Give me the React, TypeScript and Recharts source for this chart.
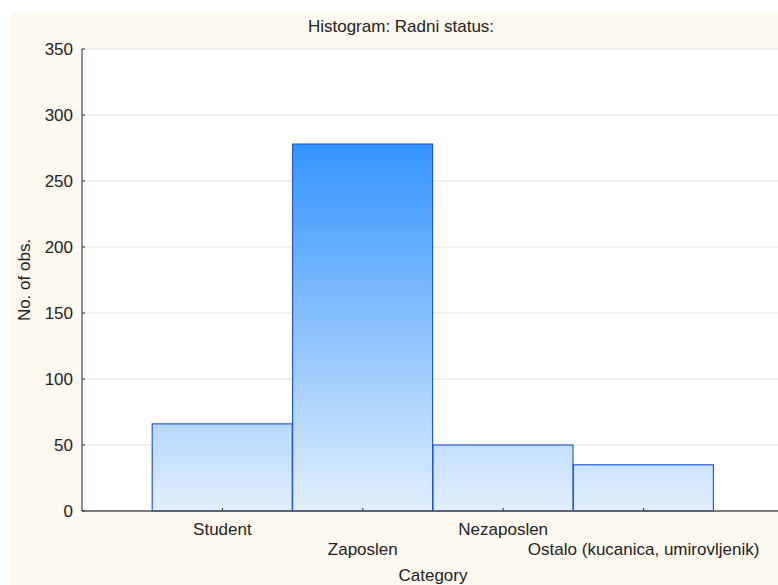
import { Bar, BarChart, CartesianGrid, XAxis, YAxis } from 'recharts';

const categories = ['Student', 'Zaposlen', 'Nezaposlen', 'Ostalo (kucanica, umirovljenik)'];
const positions = [1, 2, 3, 4];
const counts = [66, 278, 50, 35];
const yTicks = [0, 50, 100, 150, 200, 250, 300, 350];

const data = categories.map((name, i) => ({ name, pos: positions[i], count: counts[i] }));
const maxCount = Math.max(...counts);

const FONT = '"Liberation Sans", Arial, sans-serif';
const TOP_RGB = [0x33, 0x94, 0xfe];
const BOTTOM_RGB = [0xe2, 0xef, 0xfd];

// colour along the vertical gradient, t = 0 at the baseline, 1 at the tallest bar
function mix(t: number) {
  const c = BOTTOM_RGB.map((b, i) => Math.round(b + (TOP_RGB[i] - b) * t));
  return `rgb(${c.join(',')})`;
}

function GradientBar(props: any) {
  const { x, y, width, height, index, payload } = props;
  const id = `bar-grad-${index}`;
  return (
    <g>
      <defs>
        <linearGradient id={id} x1="0" y1="0" x2="0" y2="1">
          <stop offset="0" stopColor={mix(payload.count / maxCount)} />
          <stop offset="1" stopColor={mix(0)} />
        </linearGradient>
      </defs>
      <rect x={x} y={y} width={width} height={height} fill={`url(#${id})`} stroke="#1d4fd6" strokeWidth={1.1} />
    </g>
  );
}

function CategoryTick(props: any) {
  const { x, y, payload } = props;
  const i = positions.indexOf(payload.value);
  return (
    <text x={x} y={y + 24 + (i % 2) * 20} textAnchor="middle" fontSize={17} fill="#222">
      {categories[i]}
    </text>
  );
}

function YLabel({ viewBox }: any) {
  const cx = viewBox.x + 13;
  const cy = viewBox.y + viewBox.height / 2;
  return (
    <text x={cx} y={cy} transform={`rotate(-90 ${cx} ${cy})`} textAnchor="middle" dominantBaseline="central" fontSize={17} fill="#222">
      No. of obs.
    </text>
  );
}

export default function App() {
  return (
    <div style={{ position: 'absolute', left: 0, top: 0, width: 778, height: 585, background: '#fff', overflow: 'hidden' }}>
      <div
        style={{
          position: 'absolute',
          left: 11,
          top: 13,
          width: 767,
          height: 572,
          background: '#fef9ef',
          overflow: 'hidden',
          fontFamily: FONT,
        }}
      >
        <BarChart width={773} height={572} data={data} margin={{ top: 36, right: 0, bottom: 0, left: 0 }} barCategoryGap={0} barGap={0}>
          <CartesianGrid vertical={false} stroke="#e3e3e3" fill="#fff" />
          <XAxis
            xAxisId="top"
            orientation="top"
            dataKey="pos"
            type="number"
            domain={[0, 5]}
            ticks={positions}
            tick={false}
            tickSize={-3}
            height={0}
            axisLine={{ stroke: '#222', strokeWidth: 1.5 }}
            tickLine={{ stroke: '#333' }}
          />
          <XAxis
            dataKey="pos"
            type="number"
            domain={[0, 5]}
            ticks={positions}
            interval={0}
            tick={<CategoryTick />}
            tickSize={-3}
            tickMargin={3}
            height={74}
            axisLine={{ stroke: '#555', strokeWidth: 1.5 }}
            tickLine={{ stroke: '#333' }}
            label={{ value: 'Category', position: 'insideBottom', offset: 4, fontSize: 17, fill: '#222' }}
          />
          <YAxis
            type="number"
            domain={[0, 350]}
            ticks={yTicks}
            interval={0}
            width={71}
            tickSize={-3}
            tickMargin={12}
            tick={{ fontSize: 17, fill: '#222' }}
            axisLine={{ stroke: '#222' }}
            tickLine={{ stroke: '#333' }}
            label={YLabel}
          />
          <Bar dataKey="count" isAnimationActive={false} shape={GradientBar} />
        </BarChart>
        <div
          style={{
            position: 'absolute',
            left: 390,
            top: 5,
            transform: 'translateX(-50%)',
            fontSize: 17,
            lineHeight: '17px',
            whiteSpace: 'nowrap',
            color: '#222',
          }}
        >
          Histogram: Radni status:
        </div>
      </div>
    </div>
  );
}
